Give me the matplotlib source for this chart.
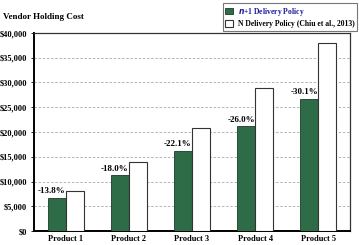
import numpy as np
import matplotlib
matplotlib.use("Agg")
import matplotlib.pyplot as plt
from matplotlib.ticker import FuncFormatter

products = ["Product 1", "Product 2", "Product 3", "Product 4", "Product 5"]
n1_policy = [6700, 11300, 16200, 21200, 26700]
n_policy = [8100, 14000, 20800, 28800, 37900]
pct_labels = ["-13.8%", "-18.0%", "-22.1%", "-26.0%", "-30.1%"]

plt.rcParams['font.family'] = ['Liberation Serif', 'DejaVu Serif']
plt.rcParams['font.weight'] = 'bold'

fig = plt.figure(figsize=(3.59, 2.45), dpi=100)
ax = fig.add_axes([34 / 359, 1 - 231 / 245, (350 - 34) / 359, (231 - 33) / 245])

x = np.arange(len(products))
w = 0.285
green = "#2e6b47"
ax.bar(x - w / 2, n1_policy, w, color=green, edgecolor="#1a3a26", linewidth=0.6,
       label=r"$\mathit{n}$+1 Delivery Policy", zorder=3)
ax.bar(x + w / 2, n_policy, w, color="white", edgecolor="#333333", linewidth=0.8,
       label="N Delivery Policy (Chiu et al., 2013)", zorder=3)

for xi, v, t in zip(x, n1_policy, pct_labels):
    ax.text(xi - w / 2 - 0.08, v + 500, t, ha="center", va="bottom",
            fontsize=6.5, fontweight="bold")

ax.set_xlim(-0.5, 4.5)
ax.set_ylim(0, 40000)
ax.set_yticks(np.arange(0, 40001, 5000))
ax.yaxis.set_major_formatter(FuncFormatter(lambda v, p: "${:,.0f}".format(v)))
ax.set_xticks(x)
ax.set_xticklabels(products)
ax.tick_params(axis="both", labelsize=6, length=0, pad=3)
ax.tick_params(axis="y", length=2, width=0.6)
ax.grid(axis="y", color="#aaaaaa", linestyle=(0, (3, 2)), linewidth=0.6, zorder=0)

for s in ["left", "bottom"]:
    ax.spines[s].set_linewidth(1.4)
for s in ["top", "right"]:
    ax.spines[s].set_linewidth(0.9)
    ax.spines[s].set_color("#333333")

fig.text(3 / 359, 1 - 17 / 245, "Vendor Holding Cost", fontsize=6.5,
         fontweight="bold", va="center", ha="left")

leg = fig.legend(loc="upper right", bbox_to_anchor=(357 / 359, 1 - 3 / 245),
                 fontsize=5.5, frameon=True, fancybox=False, edgecolor="#555555",
                 handlelength=1.0, handleheight=1.0, handletextpad=0.6,
                 borderpad=0.35, labelspacing=0.35, borderaxespad=0)
leg.get_frame().set_linewidth(0.8)
leg.get_texts()[0].set_color("#1a1aa0")

fig.savefig("out.png", dpi=100)
